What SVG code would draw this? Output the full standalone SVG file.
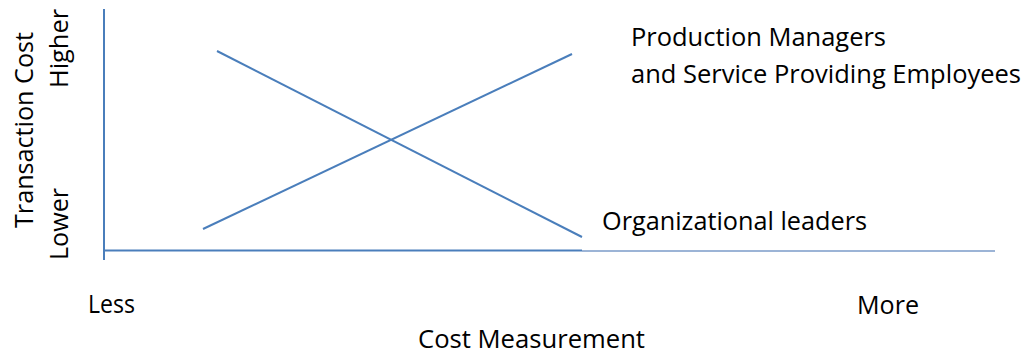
<svg xmlns="http://www.w3.org/2000/svg" width="1031" height="361" viewBox="0 0 1031 361">
<style>
.t{font-family:"Open Sans","Liberation Sans",sans-serif;font-size:25px;fill:#000}
.ln{stroke:#4a7ebb;stroke-width:2;fill:none}
.ax{stroke:#4a7ebb;stroke-width:2;fill:none}
.thin{stroke:#7b9bc9;stroke-width:1.3;fill:none}
</style>
<rect width="1031" height="361" fill="#fff"/>
<g id="axes">
<line class="ax" x1="104" y1="9" x2="104" y2="260"/>
<line class="ax" x1="104" y1="250.5" x2="582" y2="250.5"/>
<line class="thin" x1="582" y1="251" x2="995" y2="251"/>
</g>
<g id="connectors">
<line class="ln" x1="217" y1="51" x2="582" y2="237"/>
<line class="ln" x1="203" y1="229" x2="572" y2="54"/>
</g>
<g id="label-production">
<text class="t" x="631" y="46" textLength="255" lengthAdjust="spacingAndGlyphs">Production Managers</text>
<text class="t" x="631" y="83" textLength="390" lengthAdjust="spacingAndGlyphs">and Service Providing Employees</text>
</g>
<g id="label-leaders">
<text class="t" x="602" y="230" textLength="265" lengthAdjust="spacingAndGlyphs">Organizational leaders</text>
</g>
<g id="y-labels">
<text class="t" transform="translate(32.5,228) rotate(-90)" x="0" y="0" textLength="196" lengthAdjust="spacingAndGlyphs">Transaction Cost</text>
<text class="t" transform="translate(68,88) rotate(-90)" x="0" y="0" textLength="79" lengthAdjust="spacingAndGlyphs">Higher</text>
<text class="t" transform="translate(68,260) rotate(-90)" x="0" y="0" textLength="72" lengthAdjust="spacingAndGlyphs">Lower</text>
</g>
<g id="x-labels">
<text class="t" x="88" y="313" textLength="47" lengthAdjust="spacingAndGlyphs">Less</text>
<text class="t" x="857" y="314" textLength="62" lengthAdjust="spacingAndGlyphs">More</text>
<text class="t" x="418" y="348" textLength="227" lengthAdjust="spacingAndGlyphs">Cost Measurement</text>
</g>
</svg>
